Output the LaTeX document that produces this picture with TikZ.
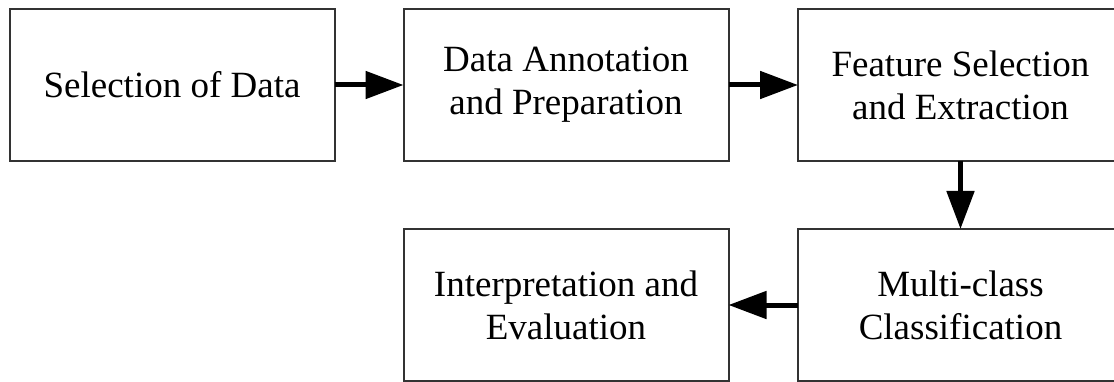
\documentclass[tikz,border=0pt]{standalone}
\usepackage{fontspec}
\setmainfont{Liberation Serif}
\usetikzlibrary{arrows.meta}
\begin{document}
\begin{tikzpicture}[x=1pt,y=-1pt,
  stage/.style={draw=black!80, line width=2pt, fill=white,
    minimum width=325pt, minimum height=152pt, inner sep=0pt, outer sep=0pt,
    align=center, font=\fontsize{37}{43}\selectfont},
  flow/.style={line width=5pt, -{Triangle[length=38pt,width=27pt]}}]
\useasboundingbox (0,0) rectangle (1114,382);
\node[stage] (sel) at (172,85) {Selection of Data};
\node[stage] (ann) at (566,85) {Data Annotation\\and Preparation};
\node[stage] (feat) at (960.5,85) {Feature Selection\\and Extraction};
\node[stage] (cls) at (960.5,305) {Multi-class\\Classification};
\node[stage] (eval) at (566,305) {Interpretation and\\Evaluation};
\draw[flow] (sel.east) -- (ann.west);
\draw[flow] (ann.east) -- (feat.west);
\draw[flow] (feat.south) -- (cls.north);
\draw[flow] (cls.west) -- (eval.east);
\end{tikzpicture}
\end{document}
